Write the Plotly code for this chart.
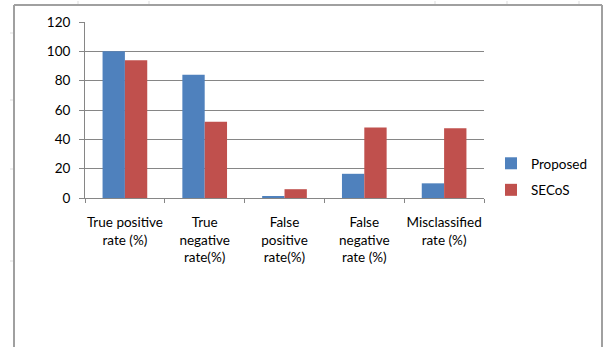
import plotly.graph_objects as go

categories = [
    "True positive<br>rate (%)",
    "True<br>negative<br>rate(%)",
    "False<br>positive<br>rate(%)",
    "False<br>negative<br>rate (%)",
    "Misclassified<br>rate (%)",
]
proposed = [100, 84, 1.2, 16.5, 10]
secos = [94, 52, 6, 48, 47.5]
y_ticks = [0, 20, 40, 60, 80, 100, 120]

W, H = 603, 347
L, R, T, B = 85, 484, 22, 198  # plot area in pixels

def px_x(x):
    return (x - L) / (R - L)

def px_y(y):
    return (H - y - (H - B)) / (B - T)

font = dict(family="Lato, Carlito, Calibri, sans-serif", size=13.5, color="#000000")

fig = go.Figure()
fig.add_trace(go.Bar(x=categories, y=proposed, name="Proposed", legendgroup="p",
                     marker=dict(color="#4F81BD", line=dict(width=0))))
fig.add_trace(go.Bar(x=categories, y=secos, name="SECoS", legendgroup="s",
                     marker=dict(color="#C0504D", line=dict(width=0))))

shapes = []
# outer frame (left, top, right edges)
frame = dict(type="line", xref="paper", yref="paper", line=dict(color="#A0A0A0", width=2))
shapes.append({**frame, "x0": px_x(14), "x1": px_x(14), "y0": px_y(5), "y1": px_y(347)})
shapes.append({**frame, "x0": px_x(14), "x1": px_x(602), "y0": px_y(5), "y1": px_y(5)})
shapes.append({**frame, "x0": px_x(602), "x1": px_x(602), "y0": px_y(5), "y1": px_y(347)})
# faint ruler marks outside the frame
mark = dict(type="line", xref="paper", yref="paper", line=dict(color="#DDDDDD", width=1))
for xm in [78, 149, 435, 507, 579]:
    shapes.append({**mark, "x0": px_x(xm), "x1": px_x(xm), "y0": px_y(1), "y1": px_y(4)})
for ym in [33, 100, 169, 261]:
    shapes.append({**mark, "x0": px_x(10), "x1": px_x(13), "y0": px_y(ym), "y1": px_y(ym)})

fig.update_layout(
    width=W, height=H,
    margin=dict(l=L, r=W - R, t=T, b=H - B, pad=0, autoexpand=False),
    paper_bgcolor="white", plot_bgcolor="white",
    barmode="group", bargap=0.44, bargroupgap=0,
    font=font,
    showlegend=True,
    legend=dict(x=px_x(491), y=px_y(148), xanchor="left", yanchor="top",
                font=dict(family=font["family"], size=13.5, color="#000000"),
                itemwidth=30, tracegroupgap=6, bgcolor="rgba(0,0,0,0)"),
    shapes=shapes,
)
fig.update_xaxes(
    type="category", showgrid=False, showline=True, linecolor="#868686", linewidth=1,
    ticks="outside", tickson="boundaries", ticklen=4, tickcolor="#868686",
    tickfont=font, tickangle=0, ticklabelstandoff=12,
)
fig.update_yaxes(
    range=[0, 120], tickvals=y_ticks, showgrid=True, gridcolor="#868686", gridwidth=1,
    showline=True, linecolor="#868686", linewidth=1, zeroline=False,
    ticks="outside", ticklen=5, tickcolor="#868686", tickfont=font, ticklabelstandoff=6,
)

fig.write_html("out.html")
